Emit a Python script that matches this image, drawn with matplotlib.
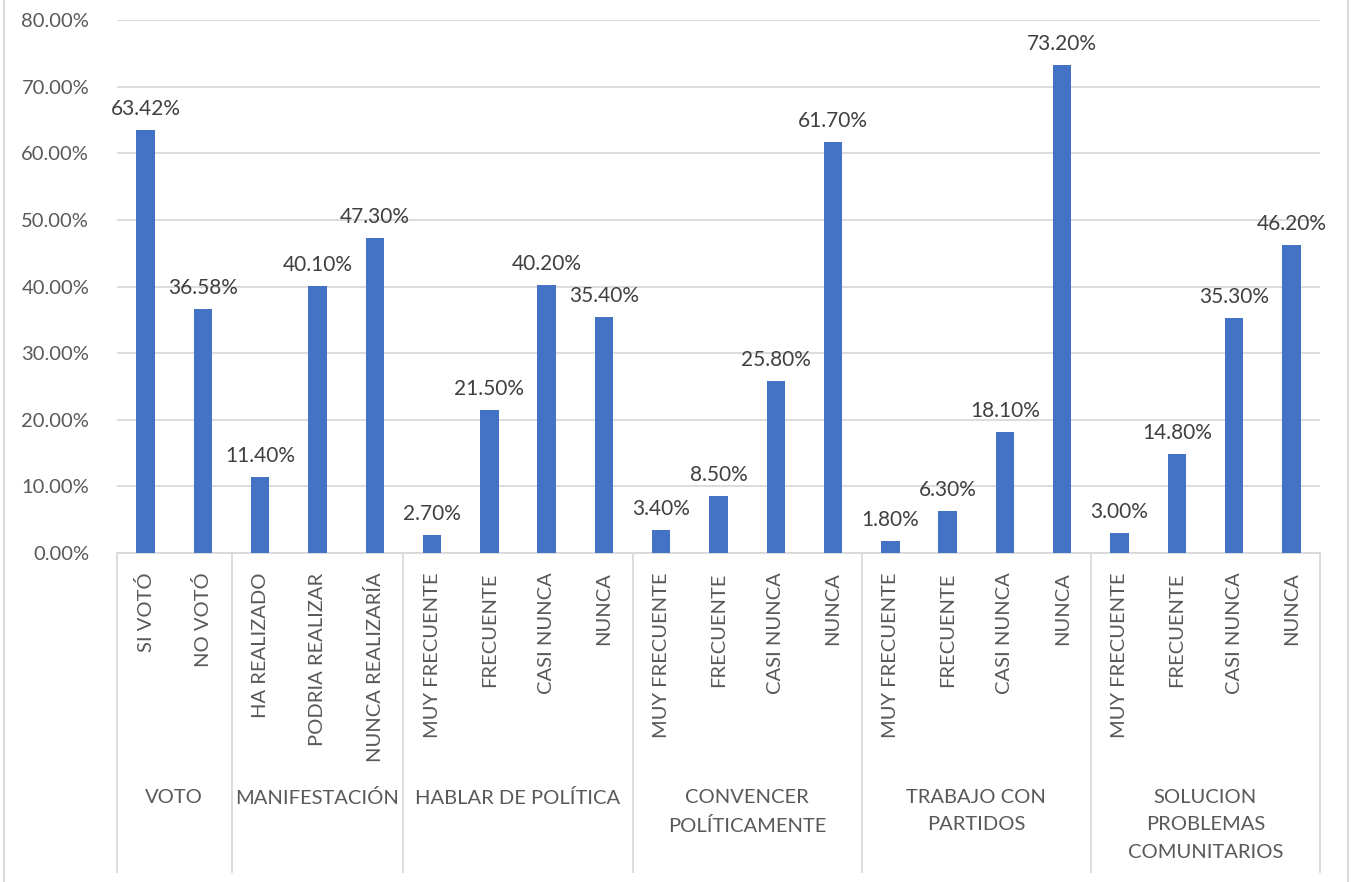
import matplotlib.pyplot as plt
from matplotlib.lines import Line2D
from matplotlib.ticker import FuncFormatter
import numpy as np

# Datos (%)
grupos = ['VOTO', 'MANIFESTACIÓN', 'HABLAR DE POLÍTICA', 'CONVENCER\nPOLÍTICAMENTE',
          'TRABAJO CON\nPARTIDOS', 'SOLUCION\nPROBLEMAS\nCOMUNITARIOS']
categorias = [
    ['SI VOTÓ', 'NO VOTÓ'],
    ['HA REALIZADO', 'PODRIA REALIZAR', 'NUNCA REALIZARÍA'],
    ['MUY FRECUENTE', 'FRECUENTE', 'CASI NUNCA', 'NUNCA'],
    ['MUY FRECUENTE', 'FRECUENTE', 'CASI NUNCA', 'NUNCA'],
    ['MUY FRECUENTE', 'FRECUENTE', 'CASI NUNCA', 'NUNCA'],
    ['MUY FRECUENTE', 'FRECUENTE', 'CASI NUNCA', 'NUNCA'],
]
valores = [
    [63.42, 36.58],
    [11.40, 40.10, 47.30],
    [2.70, 21.50, 40.20, 35.40],
    [3.40, 8.50, 25.80, 61.70],
    [1.80, 6.30, 18.10, 73.20],
    [3.00, 14.80, 35.30, 46.20],
]

plt.rcParams['font.family'] = ['Lato', 'DejaVu Sans']
txt = '#595959'
grid = '#D9D9D9'
fs = 14.5

labels = [c for g in categorias for c in g]
vals = [v for g in valores for v in g]
x = np.arange(len(vals))

fig = plt.figure(figsize=(13.53, 8.82), dpi=100)
ax = fig.add_axes([117 / 1353, 1 - 553 / 882, (1320 - 117) / 1353, 533 / 882])

ax.bar(x, vals, width=0.32, color='#4472C4', zorder=3)
for xi, v in zip(x, vals):
    ax.annotate(f'{v:.2f}%', (xi, v), xytext=(0, 8), textcoords='offset points',
                ha='center', va='bottom', fontsize=fs + 0.5, color='#404040')

ax.set_xlim(-0.5, len(vals) - 0.5)
ax.set_ylim(0, 80)
ax.set_yticks(np.arange(0, 81, 10))
ax.yaxis.set_major_formatter(FuncFormatter(lambda v, p: f'{v:.2f}%'))
ax.grid(axis='y', color=grid, linewidth=1.3, zorder=0)
ax.tick_params(axis='y', length=0, pad=20, labelsize=fs, labelcolor=txt)

ax.set_xticks(x)
ax.set_xticklabels(labels, rotation=90, va='top', fontsize=fs, color=txt)
ax.tick_params(axis='x', length=0, pad=14)

for s in ['top', 'right', 'left']:
    ax.spines[s].set_visible(False)
ax.spines['bottom'].set_color(grid)
ax.spines['bottom'].set_linewidth(1.3)

# separadores de grupo y etiquetas de grupo
tr = ax.get_xaxis_transform()
limites = np.cumsum([0] + [len(g) for g in categorias]) - 0.5
y_bot = -(872 - 553) / 533
for b in limites:
    ax.plot([b, b], [0, y_bot], color=grid, linewidth=1.3, transform=tr, clip_on=False)
for i, g in enumerate(grupos):
    c = (limites[i] + limites[i + 1]) / 2
    ax.text(c, -(789 - 553) / 533, g, transform=tr, ha='center', va='top',
            fontsize=fs, color=txt, linespacing=1.75)

# marco del gráfico
for xf in [4 / 1353, 1348 / 1353]:
    fig.add_artist(Line2D([xf, xf], [0, 1], color=grid, linewidth=1.5))

plt.savefig('out.png', dpi=100)
plt.close()
